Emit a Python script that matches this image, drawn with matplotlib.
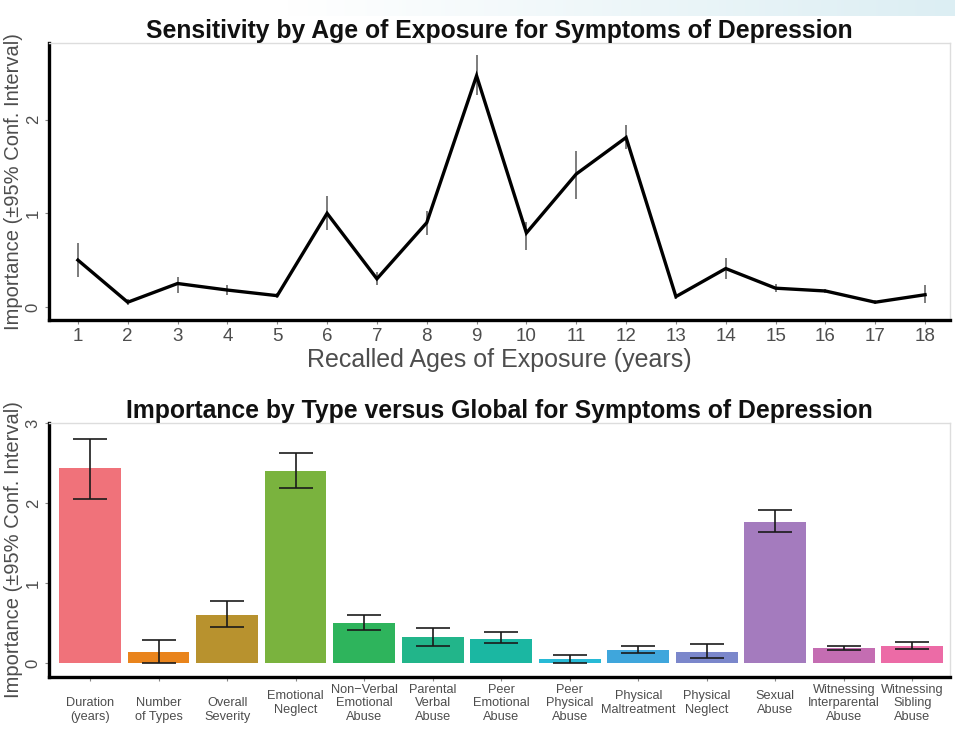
import matplotlib.pyplot as plt
import numpy as np

plt.rcParams['font.family'] = ['Liberation Sans', 'DejaVu Sans']

# top panel: importance by recalled age
ages = list(range(1, 19))
age_importance = [0.50, 0.05, 0.25, 0.18, 0.12, 1.00, 0.30, 0.90, 2.47,
                  0.79, 1.42, 1.81, 0.11, 0.41, 0.20, 0.17, 0.05, 0.13]
age_lower = [0.32, 0.02, 0.15, 0.13, 0.09, 0.82, 0.23, 0.77, 2.26,
             0.61, 1.15, 1.69, 0.08, 0.30, 0.16, 0.15, 0.03, 0.04]
age_upper = [0.68, 0.08, 0.32, 0.23, 0.15, 1.18, 0.37, 1.02, 2.69,
             0.91, 1.67, 1.94, 0.14, 0.52, 0.24, 0.19, 0.07, 0.23]

# bottom panel: importance by maltreatment type
types = ["Duration\n(years)", "Number\nof Types", "Overall\nSeverity",
         "Emotional\nNeglect", "Non\u2212Verbal\nEmotional\nAbuse",
         "Parental\nVerbal\nAbuse", "Peer\nEmotional\nAbuse",
         "Peer\nPhysical\nAbuse", "Physical\nMaltreatment", "Physical\nNeglect",
         "Sexual\nAbuse", "Witnessing\nInterparental\nAbuse",
         "Witnessing\nSibling\nAbuse"]
type_importance = [2.44, 0.14, 0.61, 2.40, 0.51, 0.33, 0.31, 0.05, 0.17, 0.14, 1.77, 0.19, 0.22]
type_lower = [2.05, 0.01, 0.45, 2.19, 0.42, 0.22, 0.25, 0.01, 0.13, 0.07, 1.64, 0.17, 0.18]
type_upper = [2.80, 0.29, 0.78, 2.63, 0.60, 0.44, 0.39, 0.10, 0.22, 0.24, 1.91, 0.22, 0.27]
type_colors = ['#F0727A', '#E9841C', '#B8922E', '#7AB33E', '#2EB45C', '#22B58A',
               '#1BB7A2', '#27BAD6', '#3FA6DC', '#7B87CB', '#A47BBE', '#C46DB2', '#EC6BA6']

W, H = 955, 731
fig = plt.figure(figsize=(W / 100, H / 100), dpi=100, facecolor='white')

# faint screenshot band along the top edge
band = fig.add_axes([0.3, 1 - 16 / H, 0.7, 16 / H])
grad = np.linspace(0, 1, 256)[None, :]
band.imshow(grad, aspect='auto', cmap=plt.matplotlib.colors.LinearSegmentedColormap.from_list(
    'band', ['#FFFFFF', '#DCEEF3']))
band.axis('off')

tick_grey = '#4d4d4d'


def style_axes(ax):
    for s in ['left', 'bottom']:
        ax.spines[s].set_linewidth(2.4)
        ax.spines[s].set_color('black')
    for s in ['top', 'right']:
        ax.spines[s].set_linewidth(1.0)
        ax.spines[s].set_color('#dddddd')
    ax.tick_params(axis='both', colors='#888888', length=3, width=0.8,
                   labelcolor=tick_grey)
    ax.tick_params(axis='y', pad=3)
    for lab in ax.get_yticklabels():
        lab.set_rotation(90)
        lab.set_va('center')
    ax.set_ylabel("Importance (\u00b195% Conf. Interval)", fontsize=14.5,
                  color=tick_grey, labelpad=2)


# ---- top panel
ax1 = fig.add_axes([49 / W, 1 - 320 / H, 901 / W, 277 / H])
ax1.errorbar(ages, age_importance,
             yerr=[np.subtract(age_importance, age_lower), np.subtract(age_upper, age_importance)],
             fmt='none', ecolor='#666666', elinewidth=1.2, capsize=0)
ax1.plot(ages, age_importance, color='black', lw=2.4, solid_joinstyle='miter')
ax1.set_xlim(0.42, 18.5)
ax1.set_ylim(-0.14, 2.82)
ax1.set_xticks(ages)
ax1.set_yticks([0, 1, 2])
ax1.tick_params(axis='x', labelsize=13.5, pad=3)
ax1.tick_params(axis='y', labelsize=12)
ax1.set_xlabel("Recalled Ages of Exposure (years)", fontsize=18, color=tick_grey, labelpad=2)
ax1.set_title("Sensitivity by Age of Exposure for Symptoms of Depression",
              fontsize=17.8, fontweight='bold', pad=3, color='#111111')
style_axes(ax1)

# ---- bottom panel
ax2 = fig.add_axes([49 / W, 1 - 677 / H, 901 / W, 254 / H])
pos = np.arange(1, len(types) + 1)
ax2.bar(pos, type_importance, width=0.9, color=type_colors)
ax2.errorbar(pos, type_importance,
             yerr=[np.subtract(type_importance, type_lower), np.subtract(type_upper, type_importance)],
             fmt='none', ecolor='#1a1a1a', alpha=0.85, elinewidth=1.4, capsize=12.5, capthick=1.4)
ax2.set_xlim(0.4, 13.55)
ax2.set_ylim(-0.17, 2.96)
ax2.set_xticks(pos)
ax2.set_xticklabels(types, fontsize=9.2, va='center', linespacing=1.2)
ax2.set_yticks([0, 1, 2, 3])
ax2.tick_params(axis='x', pad=16)
ax2.tick_params(axis='y', labelsize=12)
for k in range(3):
    ax2.xaxis.get_major_ticks()[k].set_pad(21)
ax2.set_title("Importance by Type versus Global for Symptoms of Depression",
              fontsize=17.8, fontweight='bold', pad=3, color='#111111')
style_axes(ax2)

fig.savefig("out.png", dpi=100, facecolor='white')
